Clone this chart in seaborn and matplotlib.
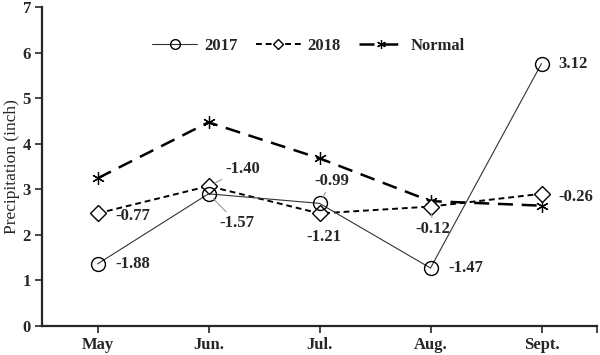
import numpy as np
import pandas as pd
import seaborn as sns
import matplotlib.pyplot as plt

# Monthly precipitation (inch)
months = ["May", "Jun.", "Jul.", "Aug.", "Sept."]
p2017 = [1.36, 2.90, 2.69, 1.27, 5.76]
p2018 = [2.47, 3.07, 2.47, 2.62, 2.90]
normal = [3.24, 4.47, 3.68, 2.74, 2.64]

# departure labels from the chart
lab2017 = ["-1.88", "-1.57", "-0.99", "-1.47", "3.12"]
lab2018 = ["-0.77", "-1.40", "-1.21", "-0.12", "-0.26"]

df = pd.DataFrame({"month": np.arange(len(months)), "2017": p2017,
                   "2018": p2018, "Normal": normal})

sns.set_style("ticks")
plt.rcParams["font.family"] = ["Liberation Serif", "DejaVu Serif"]

fig = plt.figure(figsize=(6, 3.55), dpi=100)
ax = fig.add_axes([0.07, 0.082, 0.925, 0.898])

sns.lineplot(data=df, x="month", y="Normal", ax=ax, color="black", lw=1.8,
             marker=(6, 2, 0), markersize=9, mec="black", mew=0.9,
             label="Normal", zorder=2)
ax.lines[-1].set_dashes([6, 3.5])
sns.lineplot(data=df, x="month", y="2018", ax=ax, color="black", lw=1.4,
             marker="D", markersize=8, mfc="white", mec="black", mew=1.0,
             label="2018", zorder=3)
ax.lines[-1].set_dashes([3, 2])
sns.lineplot(data=df, x="month", y="2017", ax=ax, color="#333333", lw=0.8,
             marker="o", markersize=10, mfc="none", mec="black", mew=1.0,
             label="2017", zorder=4)

# label offsets in points (dx, dy, ha), and whether a leader line is drawn
off2017 = [(13, 0, "left", False), (8, -21, "left", True), (9, 16, "center", True),
           (13, 0, "left", False), (12, 0, "left", False)]
off2018 = [(13, -2, "left", False), (12, 12, "left", True), (3, -17, "center", False),
           (2, -16, "center", True), (12, -2, "left", False)]

for vals, labs, offs in [(p2017, lab2017, off2017), (p2018, lab2018, off2018)]:
    for i, (v, t, (dx, dy, ha, lead)) in enumerate(zip(vals, labs, offs)):
        ap = dict(arrowstyle="-", color="#999999", lw=0.8, shrinkA=0, shrinkB=5) if lead else None
        ax.annotate(t, xy=(i, v), xytext=(dx, dy), textcoords="offset points",
                    ha=ha, va="center", fontsize=12, fontweight="bold",
                    arrowprops=ap, zorder=5)

ax.set_xlim(-0.5, 4.5)
ax.set_ylim(0, 7)
ax.set_xticks(range(len(months)))
ax.set_xticklabels(months, fontsize=12, fontweight="bold")
ax.set_xticks([4.5], minor=True)
ax.tick_params(axis="x", which="minor", length=5, width=1.2)
ax.set_yticks(range(8))
ax.set_yticklabels([str(v) for v in range(8)], fontsize=12, fontweight="bold")
ax.tick_params(axis="both", which="major", length=5, width=1.2, direction="out", pad=3)
ax.tick_params(axis="x", pad=3)
ax.set_xlabel("")
ax.set_ylabel("Precipitation (inch)", fontsize=12.5, labelpad=2)
for s in ["left", "bottom"]:
    ax.spines[s].set_linewidth(1.6)
sns.despine(ax=ax)

h, l = ax.get_legend_handles_labels()
order = [2, 1, 0]
ax.legend([h[k] for k in order], [l[k] for k in order], ncol=3, frameon=False,
          loc="upper center", bbox_to_anchor=(0.48, 0.95),
          prop={"weight": "bold", "size": 12}, handlelength=2.7, columnspacing=1.1,
          handletextpad=0.4, markerscale=0.7)

fig.savefig("out.png", dpi=100)
